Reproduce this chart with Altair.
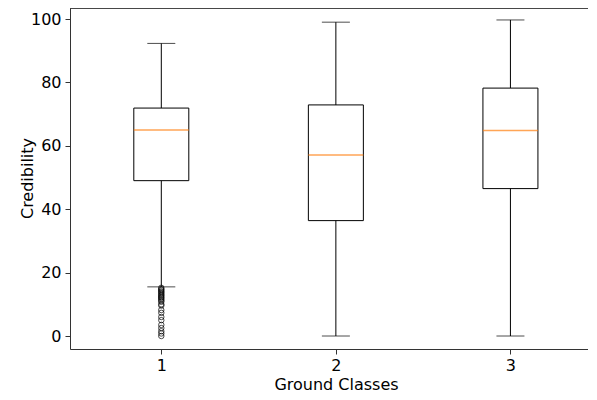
import altair as alt
import pandas as pd

classes = [1, 2, 3]
whisker_low = [15.5, 0.0, 0.0]
q1 = [49.0, 36.4, 46.5]
median = [65.0, 57.1, 64.8]
q3 = [71.9, 72.9, 78.2]
whisker_high = [92.3, 99.0, 99.7]

outliers_class1 = [15.2, 14.8, 14.5, 14.1, 13.8, 13.4, 13.0, 12.7, 12.3, 12.0,
                   11.6, 11.2, 10.8, 10.0, 9.6, 8.2, 7.3, 6.0, 5.0, 3.5, 2.5,
                   1.5, 0.8, 0.0]

stats = pd.DataFrame({
    "cls": classes, "low": whisker_low, "q1": q1, "med": median,
    "q3": q3, "high": whisker_high,
})
fl = pd.DataFrame({"cls": [1] * len(outliers_class1), "val": outliers_class1})

W, H = 518, 341
FONT = "DejaVu Sans"

xscale = alt.Scale(domain=[0.5056, 3.4157], nice=False, zero=False)
yscale = alt.Scale(domain=[-4.1, 103.47], nice=False, zero=False)

xaxis = alt.Axis(values=[1, 2, 3], format="d", grid=False, title="Ground Classes",
                 tickSize=5, labelPadding=3, labelFontSize=16, titleFontSize=16,
                 labelFont=FONT, titleFont=FONT, labelColor="black", titleColor="black",
                 domainColor="#333", tickColor="#333", titleFontWeight="normal",
                 titleX=266, titleY=40, titleBaseline="alphabetic", labelFlush=False)
yaxis = alt.Axis(values=[0, 20, 40, 60, 80, 100], grid=False, title="Credibility",
                 tickSize=5, labelPadding=4, labelFontSize=16, titleFontSize=16,
                 labelFont=FONT, titleFont=FONT, labelColor="black", titleColor="black",
                 domainColor="#333", tickColor="#333", titleFontWeight="normal",
                 titleX=-38, titleY=170, titleBaseline="alphabetic", titleAngle=270,
                 labelFlush=False)

base = alt.Chart(stats)

whisk = base.mark_rule(color="black", strokeWidth=1).encode(
    x=alt.X("cls:Q", scale=xscale, axis=xaxis),
    y=alt.Y("low:Q", scale=yscale, axis=yaxis),
    y2="high:Q",
)
caps_low = base.mark_tick(orient="horizontal", size=28, thickness=1, color="black").encode(
    x=alt.X("cls:Q", scale=xscale), y=alt.Y("low:Q", scale=yscale))
caps_high = base.mark_tick(orient="horizontal", size=28, thickness=1, color="black").encode(
    x=alt.X("cls:Q", scale=xscale), y=alt.Y("high:Q", scale=yscale))
box = base.mark_bar(size=55, fill="white", stroke="black", strokeWidth=1).encode(
    x=alt.X("cls:Q", scale=xscale), y=alt.Y("q1:Q", scale=yscale), y2="q3:Q")
med = base.mark_tick(orient="horizontal", size=55, thickness=1.5, color="#ff7f0e").encode(
    x=alt.X("cls:Q", scale=xscale), y=alt.Y("med:Q", scale=yscale))
fliers = alt.Chart(fl).mark_point(shape="circle", filled=False, size=30,
                                  color="black", strokeWidth=1).encode(
    x=alt.X("cls:Q", scale=xscale), y=alt.Y("val:Q", scale=yscale))
top_spine = alt.Chart(stats).mark_rule(color="#333", strokeWidth=1).encode(
    x=alt.value(0), x2=alt.value(W), y=alt.value(0))

chart = alt.layer(whisk, caps_low, caps_high, box, med, fliers, top_spine).properties(
    width=W, height=H,
    autosize=alt.AutoSizeParams(type="none"),
    padding={"left": 62, "top": 0, "right": 0, "bottom": 43},
).configure_view(stroke=None).configure(background="white")

chart.save("out.html", embed_options={"renderer": "svg", "actions": False})
